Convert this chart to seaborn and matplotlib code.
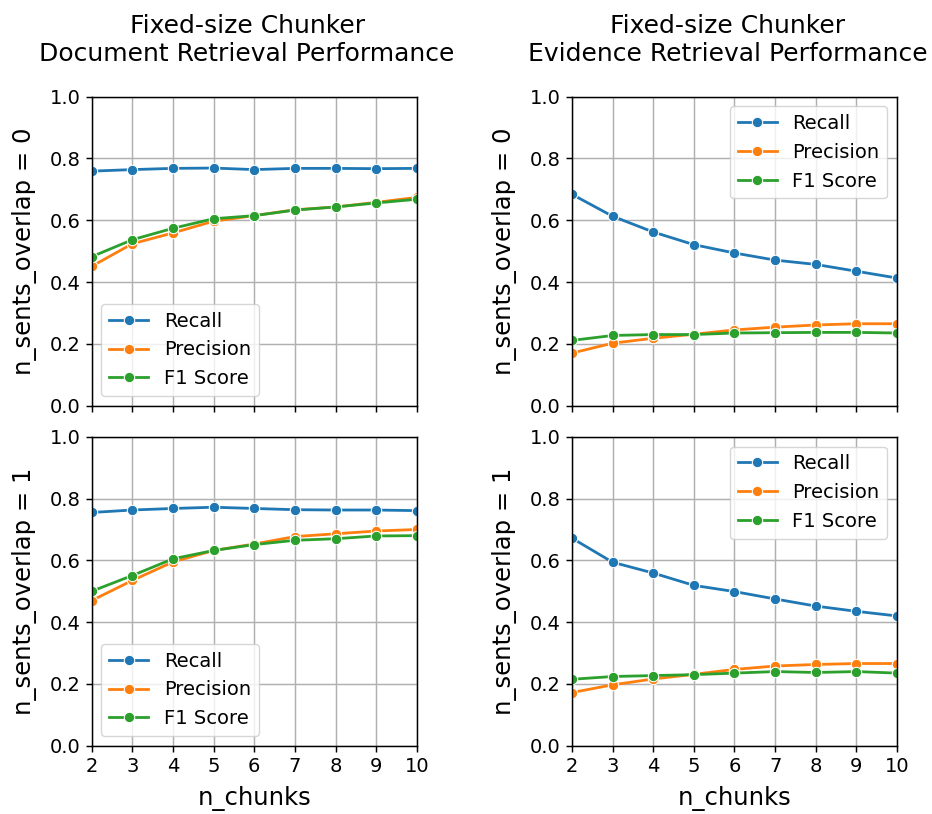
import matplotlib
matplotlib.use("Agg")
import matplotlib.pyplot as plt
import seaborn as sns
import pandas as pd

n_chunks = [2, 3, 4, 5, 6, 7, 8, 9, 10]
metrics = ["Recall", "Precision", "F1 Score"]
col_titles = ["Fixed-size Chunker\nDocument Retrieval Performance",
              "Fixed-size Chunker\nEvidence Retrieval Performance"]
row_labels = ["n_sents_overlap = 0", "n_sents_overlap = 1"]

# Document retrieval, overlap 0
doc0_recall = [0.759, 0.764, 0.768, 0.769, 0.764, 0.768, 0.768, 0.767, 0.768]
doc0_precision = [0.451, 0.524, 0.559, 0.597, 0.615, 0.634, 0.643, 0.658, 0.674]
doc0_f1 = [0.482, 0.537, 0.574, 0.605, 0.615, 0.633, 0.643, 0.656, 0.668]
# Evidence retrieval, overlap 0
evi0_recall = [0.684, 0.613, 0.562, 0.521, 0.494, 0.471, 0.457, 0.435, 0.413]
evi0_precision = [0.170, 0.202, 0.218, 0.231, 0.245, 0.254, 0.261, 0.265, 0.265]
evi0_f1 = [0.211, 0.227, 0.230, 0.230, 0.235, 0.236, 0.237, 0.237, 0.235]
# Document retrieval, overlap 1
doc1_recall = [0.755, 0.763, 0.768, 0.772, 0.768, 0.764, 0.763, 0.763, 0.761]
doc1_precision = [0.470, 0.535, 0.595, 0.632, 0.653, 0.677, 0.686, 0.695, 0.700]
doc1_f1 = [0.500, 0.551, 0.605, 0.632, 0.651, 0.665, 0.670, 0.679, 0.680]
# Evidence retrieval, overlap 1
evi1_recall = [0.672, 0.594, 0.559, 0.519, 0.499, 0.475, 0.452, 0.435, 0.420]
evi1_precision = [0.172, 0.197, 0.216, 0.231, 0.247, 0.258, 0.263, 0.266, 0.266]
evi1_f1 = [0.215, 0.224, 0.227, 0.230, 0.235, 0.240, 0.237, 0.240, 0.235]

panels = [
    [(doc0_recall, doc0_precision, doc0_f1), (evi0_recall, evi0_precision, evi0_f1)],
    [(doc1_recall, doc1_precision, doc1_f1), (evi1_recall, evi1_precision, evi1_f1)],
]
legend_locs = ["lower left", "upper right"]

plt.rcParams["font.family"] = ["DejaVu Sans"]
fig, axes = plt.subplots(2, 2, figsize=(9.32, 8.14), dpi=100, sharex=True)
fig.subplots_adjust(left=0.0984, right=0.9625, top=0.8812, bottom=0.0839,
                    wspace=0.477, hspace=0.101)

palette = sns.color_palette("tab10", 3)

for r in range(2):
    for c in range(2):
        ax = axes[r][c]
        rec, pre, f1 = panels[r][c]
        df = pd.DataFrame({
            "n_chunks": n_chunks * 3,
            "value": rec + pre + f1,
            "metric": [metrics[0]] * 9 + [metrics[1]] * 9 + [metrics[2]] * 9,
        })
        sns.lineplot(data=df, x="n_chunks", y="value", hue="metric",
                     hue_order=metrics, palette=palette, marker="o",
                     markersize=7.5, linewidth=2.0, ax=ax)
        ax.set_xlim(2, 10)
        ax.set_ylim(0, 1.0)
        ax.set_xticks(n_chunks)
        ax.set_yticks([0.0, 0.2, 0.4, 0.6, 0.8, 1.0])
        ax.grid(True, color="#b0b0b0", linewidth=1.05)
        ax.set_axisbelow(True)
        for s in ax.spines.values():
            s.set_linewidth(1.05)
            s.set_color("black")
        ax.tick_params(labelsize=14, length=4.6, width=1.05)
        ax.set_ylabel(row_labels[r], fontsize=17.5, labelpad=9)
        if r == 1:
            ax.set_xlabel("n_chunks", fontsize=17.5, labelpad=7)
        else:
            ax.set_xlabel("")
            ax.tick_params(labelbottom=False)
        if r == 0:
            ax.set_title(col_titles[c], fontsize=18, pad=26, x=0.478)
        ax.legend(loc=legend_locs[c], fontsize=14, title=None)

fig.savefig("out.png", dpi=100)
